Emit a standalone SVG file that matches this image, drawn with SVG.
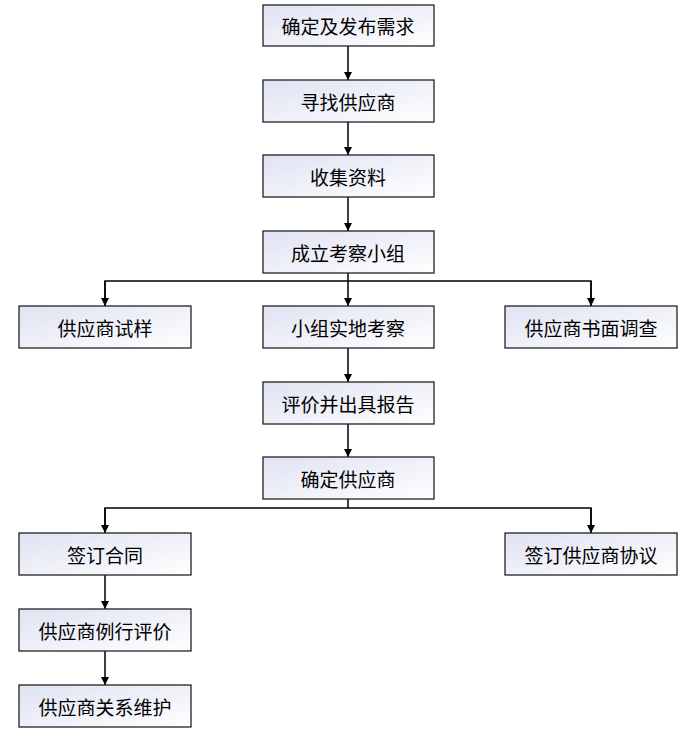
<svg xmlns="http://www.w3.org/2000/svg" width="693" height="730" viewBox="0 0 693 730">
<defs>
<linearGradient id="g" x1="0" y1="0" x2="1" y2="1"><stop offset="0" stop-color="#dfe2f2"/><stop offset="1" stop-color="#ffffff"/></linearGradient>
<marker id="a" viewBox="0 0 10 10" refX="10" refY="5" markerWidth="8" markerHeight="8" orient="auto" markerUnits="userSpaceOnUse"><path d="M0,0L10,5L0,10z" fill="#000"/></marker>
<style>
rect{fill:url(#g);stroke:#222;stroke-width:1.3}
text{font-family:"Noto Sans CJK SC",sans-serif;font-size:19px;text-anchor:middle;dominant-baseline:central;fill:#000}
.c line,.c path{stroke:#000;stroke-width:1.5;fill:none}
</style>
</defs>
<g class="c">
<line x1="348" y1="46" x2="348" y2="80" marker-end="url(#a)"/>
<line x1="348" y1="122" x2="348" y2="155" marker-end="url(#a)"/>
<line x1="348" y1="197" x2="348" y2="231" marker-end="url(#a)"/>
<line x1="348" y1="273" x2="348" y2="306" marker-end="url(#a)"/>
<path d="M105,306V281H591V306" stroke-width="1.5"/>
<line x1="105" y1="281" x2="105" y2="306" marker-end="url(#a)"/>
<line x1="591" y1="281" x2="591" y2="306" marker-end="url(#a)"/>
<line x1="348" y1="348" x2="348" y2="382" marker-end="url(#a)"/>
<line x1="348" y1="424" x2="348" y2="457" marker-end="url(#a)"/>
<path d="M348,499V508H105V533M348,508H591V533"/>
<line x1="105" y1="508" x2="105" y2="533" marker-end="url(#a)"/>
<line x1="591" y1="508" x2="591" y2="533" marker-end="url(#a)"/>
<line x1="105" y1="575" x2="105" y2="609" marker-end="url(#a)"/>
<line x1="105" y1="651" x2="105" y2="685" marker-end="url(#a)"/>
</g>
<g id="n1"><rect x="263" y="5" width="171" height="41"/><text x="348" y="25">确定及发布需求</text></g>
<g id="n2"><rect x="263" y="80" width="171" height="42"/><text x="348" y="101">寻找供应商</text></g>
<g id="n3"><rect x="263" y="155" width="171" height="42"/><text x="348" y="176">收集资料</text></g>
<g id="n4"><rect x="263" y="231" width="171" height="42"/><text x="348" y="252">成立考察小组</text></g>
<g id="n5"><rect x="19" y="306" width="172" height="42"/><text x="105" y="327">供应商试样</text></g>
<g id="n6"><rect x="263" y="306" width="171" height="42"/><text x="348" y="327">小组实地考察</text></g>
<g id="n7"><rect x="505" y="306" width="172" height="42"/><text x="591" y="327">供应商书面调查</text></g>
<g id="n8"><rect x="263" y="382" width="171" height="42"/><text x="348" y="403">评价并出具报告</text></g>
<g id="n9"><rect x="263" y="457" width="171" height="42"/><text x="348" y="478">确定供应商</text></g>
<g id="n10"><rect x="19" y="533" width="172" height="42"/><text x="105" y="554">签订合同</text></g>
<g id="n11"><rect x="505" y="533" width="172" height="42"/><text x="591" y="554">签订供应商协议</text></g>
<g id="n12"><rect x="19" y="609" width="172" height="42"/><text x="105" y="630">供应商例行评价</text></g>
<g id="n13"><rect x="19" y="685" width="172" height="42"/><text x="105" y="706">供应商关系维护</text></g>
</svg>
